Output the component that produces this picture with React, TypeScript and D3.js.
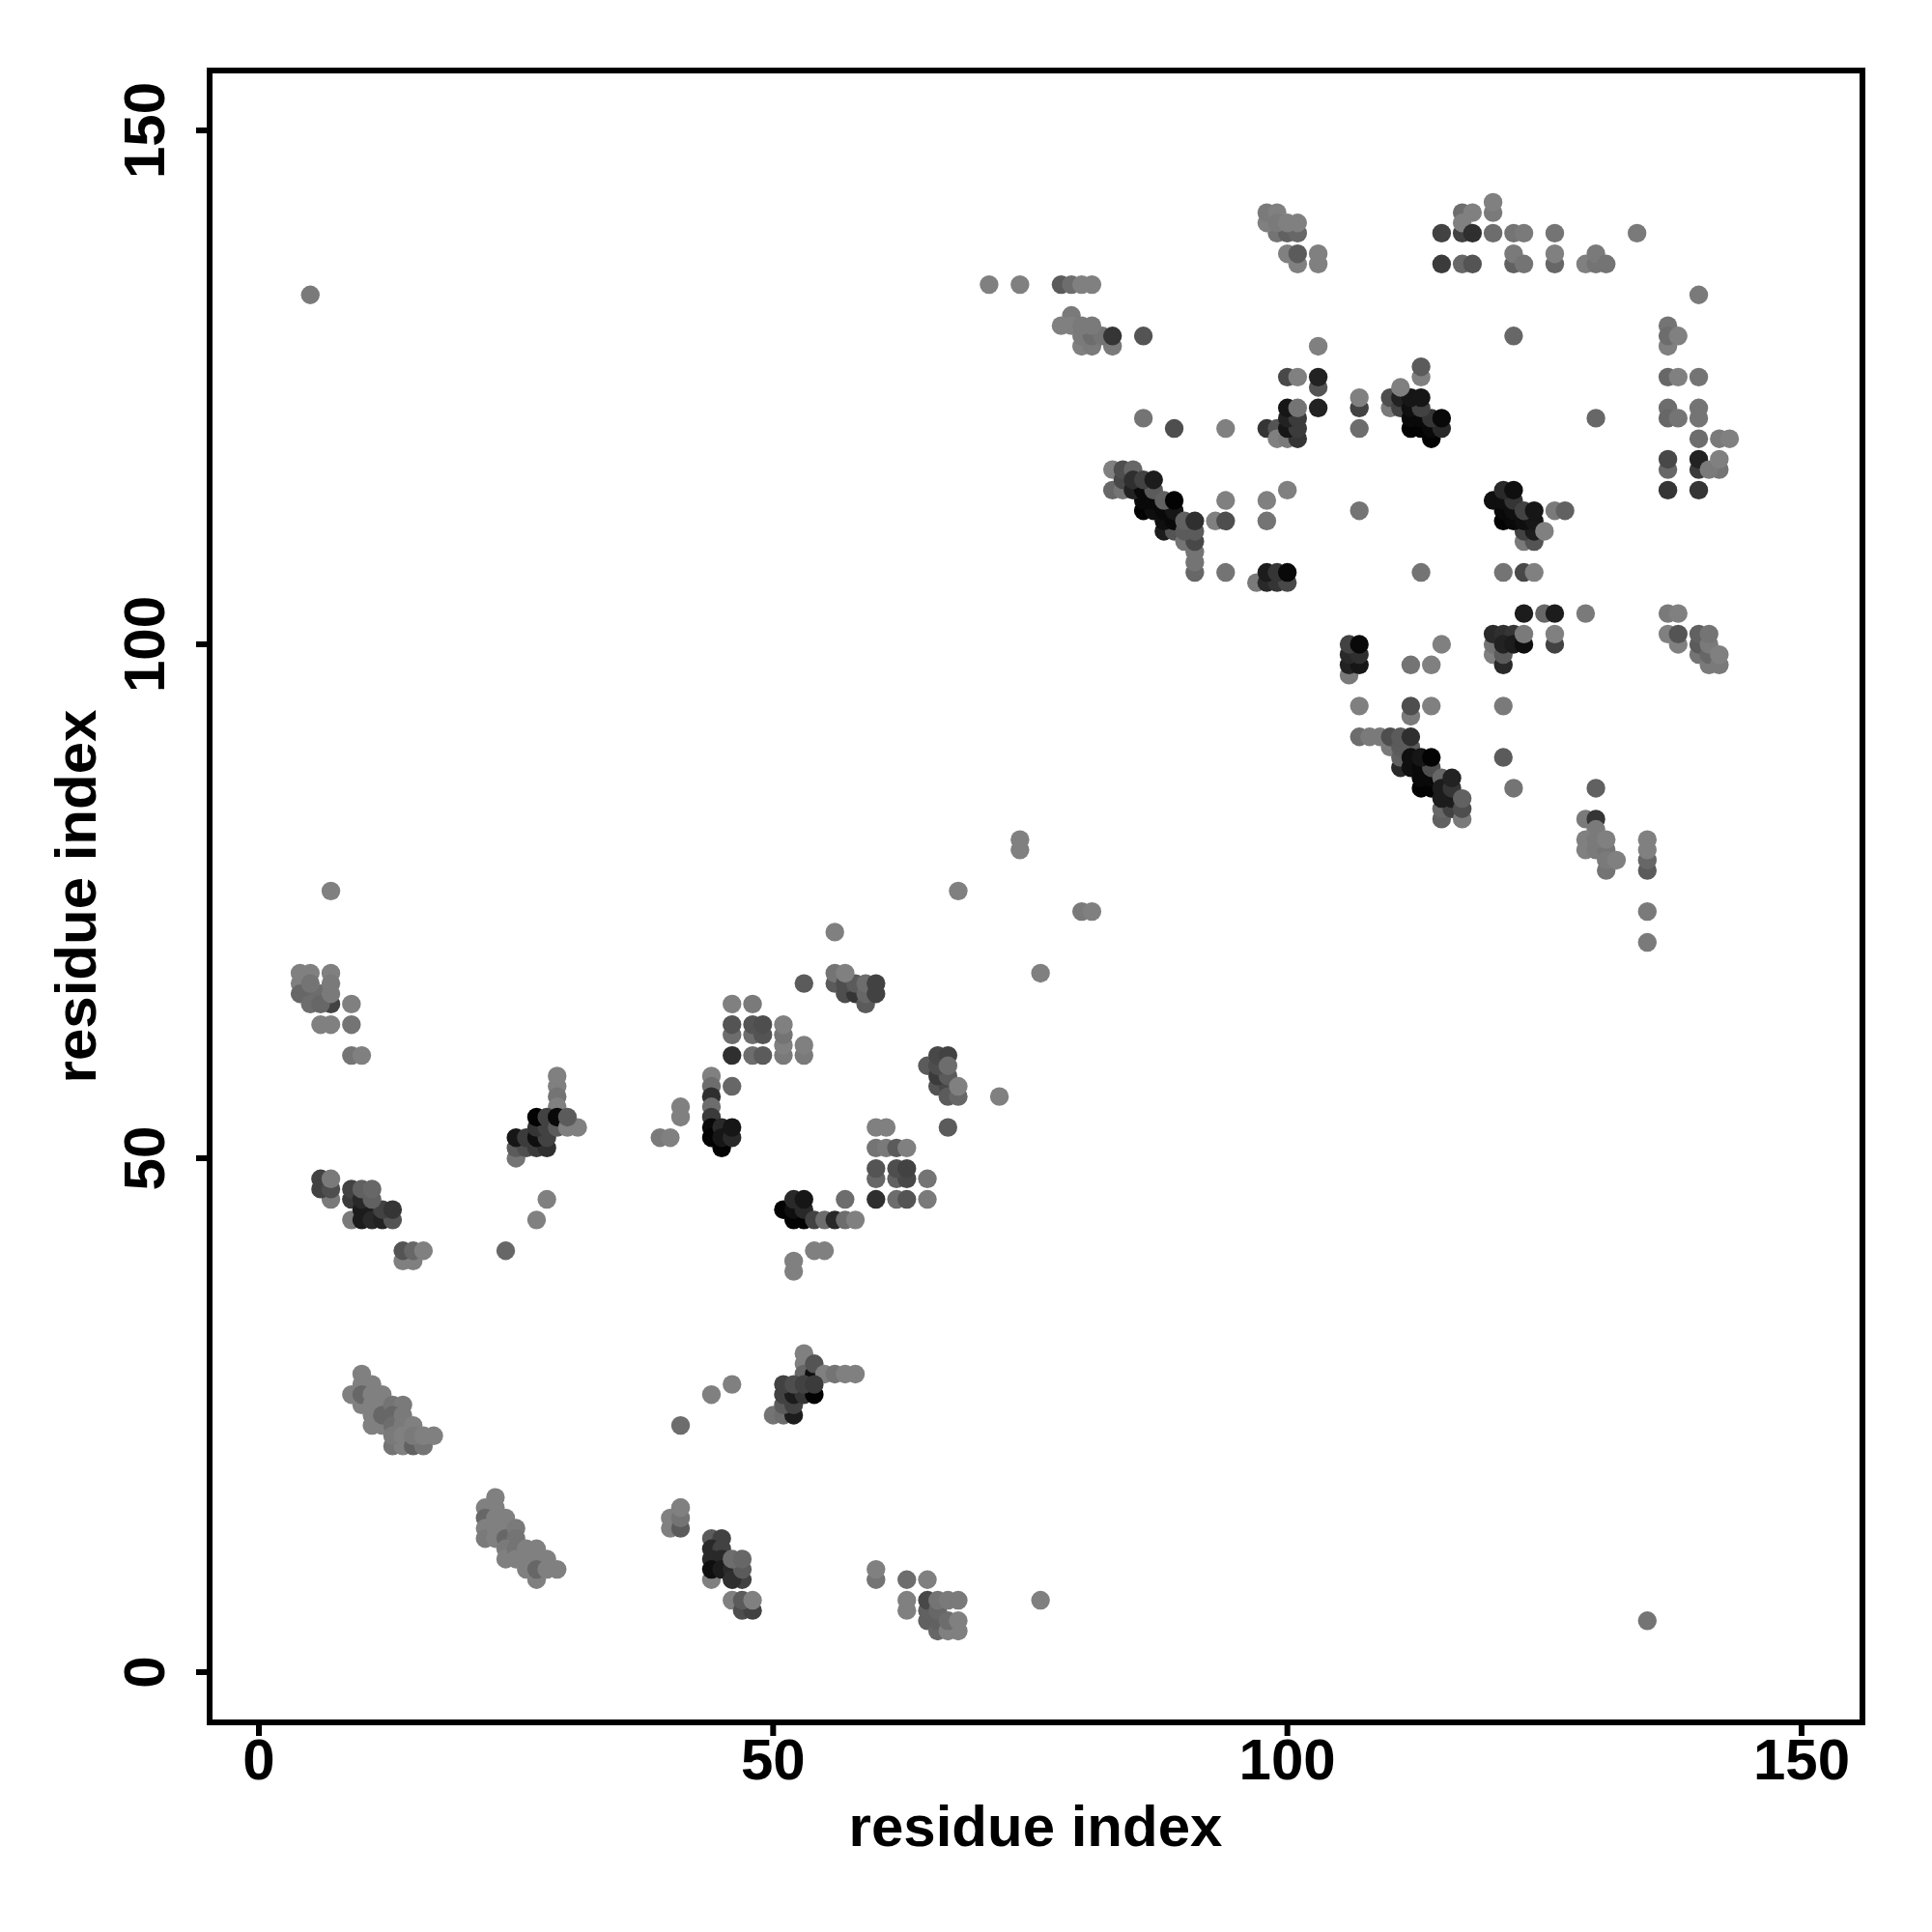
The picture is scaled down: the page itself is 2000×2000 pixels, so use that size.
import React from "react";
import * as d3 from "d3";

type P = [number, number, number];
// each contact: [residue i, residue j, contact strength 0..10]
const c1: P[] = [[10,29,0],[10,28,0],[11,28,0],[9,27,0],[10,26,0],[10,27,2],[11,27,0],[12,27,0],[11,26,0],[12,26,0],[11,24,0],[12,24,0],[11,25,0],[12,25,2],[13,26,1],[14,26,0.5],[13,25,2],[13,24,1.5],[14,25,0.5],[14,24,0.5],[13,22,1],[14,22,0],[13,23,0.5],[14,23,0],[15,22,2.5],[16,22,1],[15,24,0],[15,23,0.5],[16,23,0],[17,23,0]];
const c2: P[] = [[23,17,0],[22,16,0],[23,16,0],[22,15,2],[22,14,0],[22,13,0.5],[23,15,0],[24,15,0],[23,14,0],[23,13,0],[24,14,0],[24,13,2],[25,14,0.5],[25,13,1],[24,12,0.5],[24,11,0],[25,12,1],[25,11,0],[26,12,0],[27,12,0],[26,11,0],[27,11,0],[28,11,0],[26,10,0],[27,9,0],[27,10,2],[28,10,0],[29,10,0]];
const c3: P[] = [[41,24,1.5],[44,27,0],[46,28,0],[41,16,0],[40,15,0],[40,14,0],[41,14,3],[41,15,1],[41,16,0],[44,9,0],[44,13,3],[45,13,5],[44,12,7],[45,12,5],[44,11,7],[45,11,7],[44,10,9],[45,10,8],[46,10,7],[47,9,5],[46,9,6.5],[47,10,3],[46,11,1.5],[47,11,2],[46,7,0],[47,6,4],[48,6,5],[47,7,3],[48,7,0]];
const c4: P[] = [[60,9,1],[60,10,0],[63,9,1.5],[65,9,0],[63,6,0],[63,7,0],[65,5,2.5],[65,6,2.5],[65,7,4.5],[66,4,2],[66,5,2.5],[66,6,2],[66,7,1],[67,7,0.5],[68,7,0.5],[67,4,0],[68,4,0],[67,5,1.5],[68,5,0],[76,7,0],[135,5,1]];
const c5: P[] = [[53,31,0],[53,30,0],[53,29,2],[54,29,9],[54,30,3.5],[55,29,0],[56,29,1],[57,29,0],[58,29,0],[50,25,1],[51,25,1.5],[52,25,8],[51,26,3],[52,26,5],[51,27,5],[52,27,8],[53,27,6],[54,27,10],[51,28,5],[52,28,4],[53,28,5],[54,28,5.5],[52,40,0],[52,39,0],[54,41,0],[55,41,0]];
const c6: P[] = [[7,65,5],[4,68,0],[5,68,0],[7,68,0],[4,67,0],[5,66,1.5],[4,66,2],[6,66,1.5],[5,65,1.5],[6,65,2],[5,67,1],[7,67,0.5],[7,66,0.5],[9,65,0],[6,63,0],[7,63,0],[9,63,1],[9,60,1],[10,60,0],[7,76,0],[5,134,0.5]];
const c7: P[] = [[7,46,0.5],[6,48,5],[6,47,5],[7,47,4],[7,48,0.5],[9,44,0.5],[9,46,5.5],[9,47,5],[10,45,8],[10,44,8],[11,45,8],[11,44,7],[12,44,7.5],[13,44,3.5],[12,45,5],[13,45,6],[10,46,7],[11,46,2.5],[10,47,2.5],[11,47,2],[14,40,0],[15,40,0],[14,41,3.5],[15,41,2],[16,41,0],[24,41,2],[28,46,0],[27,44,0]];
const c8: P[] = [[29,58,0],[29,57,0],[29,56,1],[29,55,0],[25,50,1],[25,51,3],[26,51,4],[27,51,5.5],[28,51,6.5],[25,52,8.5],[26,52,5.5],[27,52,9],[28,52,5],[27,53,6],[28,53,5],[27,54,10],[28,54,5],[29,53,3],[29,54,9.5],[30,53,0],[31,53,0],[30,54,3]];
const c9: P[] = [[56,72,0],[53,67,3],[56,67,3],[56,68,1],[57,66,4],[58,66,6],[57,67,4],[58,67,3],[57,68,0],[59,65,3],[59,66,2],[59,67,1.5],[60,67,5],[60,66,5]];
const c10: P[] = [[46,65,0],[48,65,0.5],[46,62,1.5],[46,63,3.5],[48,62,1.5],[49,62,3.5],[48,63,3.5],[49,63,4],[51,60,0.5],[51,61,0],[51,62,1],[51,63,0],[46,60,6.5],[48,60,1.5],[49,60,3],[53,60,0.5],[53,61,0],[46,57,2]];
const c11: P[] = [[44,58,0],[44,57,1.5],[44,56,6.5],[44,55,1.5],[44,54,5.5],[44,53,9.5],[44,52,10],[45,51,10],[45,53,7],[45,52,8.5],[46,52,7],[46,53,8.5],[41,54,0],[41,55,0],[39,52,0.5],[40,52,0]];
const c12: P[] = [[51,45,10],[52,44,10],[53,44,10],[52,45,9],[53,45,7],[52,46,7],[53,46,8.5],[54,44,5],[55,44,1.5],[56,44,7],[57,44,1.5],[58,44,0],[57,46,1.5],[60,53,0],[61,53,0],[60,51,1],[61,51,0.5],[62,51,3],[63,51,0],[60,48,2],[60,49,3.5],[62,48,2.5],[63,48,4.5],[62,49,4],[63,49,5],[65,48,1],[60,46,6.5],[62,46,1.5],[63,46,3.5],[65,46,0.5]];
const c13: P[] = [[67,53,3],[72,56,0],[65,59,3],[66,57,3.5],[67,57,4.5],[66,58,5.5],[67,58,3],[66,59,4],[66,60,4.5],[67,60,5],[67,59,1.5],[67,56,3],[68,56,2],[68,57,0],[68,76,0],[74,80,0],[74,81,0],[80,74,0.5],[81,74,0],[76,68,0]];
const c14: P[] = [[71,135,0],[74,135,0],[78,135,3],[79,135,1.5],[80,135,0],[81,135,0],[79,132,0.5],[78,131,0],[79,131,0],[80,129,0],[81,129,0.5],[83,129,0.5],[80,130,0.5],[81,130,1.5],[82,130,1],[80,131,0.5],[81,131,0.5],[83,130,6],[86,130,3.5]];
const c15: P[] = [[86,122,1],[89,121,4],[94,121,0],[98,121,6],[99,121,3.5],[99,120,0],[100,120,0.5],[101,120,6],[100,121,8.5],[101,121,5.5],[100,122,7.5],[101,122,5.5],[100,123,8.5],[101,123,1],[103,123,7.5],[103,125,3.5],[103,126,7.5],[100,126,4.5],[101,126,0],[103,129,0]];
const c16: P[] = [[99,140,1],[98,141,0],[100,140,2.5],[101,140,2],[98,142,0.5],[99,142,0],[99,141,0.5],[100,141,0],[101,141,0],[100,138,0],[101,137,0],[101,138,3],[103,137,0],[103,138,0]];
const c17: P[] = [[115,140,5],[115,137,5.5],[117,142,1.5],[118,142,0],[117,140,5],[117,141,0],[118,140,6.5],[117,137,2],[118,137,3.5],[120,142,0.5],[120,143,0],[120,140,1.5],[122,140,1],[123,140,0.5],[126,140,1],[134,140,0.5],[122,137,2.5],[122,138,0.5],[123,137,1],[126,137,2],[126,138,0],[129,137,0],[130,137,1],[130,138,0.5],[131,137,1],[122,130,2],[130,122,2]];
const c18: P[] = [[107,123,5],[107,124,0],[107,121,1.5],[110,123,0.5],[110,124,4],[111,123,5],[111,124,7.5],[113,126,0],[113,127,3],[112,121,10],[113,121,10],[114,120,10],[114,121,9.5],[115,121,7],[112,122,9.5],[113,122,9.5],[114,122,6],[115,122,9.5],[112,123,9],[113,123,5],[112,124,8.5],[113,124,8.5],[111,125,0]];
const c19: P[] = [[140,134,0.5],[137,131,1],[137,129,0],[137,130,1.5],[138,130,0],[137,126,2],[138,126,0],[140,126,1],[137,123,1.5],[137,122,2],[138,122,1],[140,122,1],[140,123,1],[140,120,1.5],[142,120,0.5],[143,120,0],[137,117,2],[137,118,4.5],[140,117,5.5],[140,118,7.5],[142,117,1],[141,117,0.5],[142,118,0],[137,115,6],[140,115,6]];
const c20: P[] = [[123,110,0.5],[124,110,3.5],[123,111,5],[124,111,8],[121,112,10],[122,112,9.5],[123,112,9],[124,112,8.5],[121,113,9.5],[122,113,9],[120,114,9],[121,114,9],[122,114,6],[121,115,7],[122,115,9],[123,113,5],[124,113,8.5],[125,111,0],[126,113,0.5],[127,113,2.5],[121,107,1],[123,107,4.5],[124,107,0],[107,113,1]];
const c21: P[] = [[123,103,8],[125,103,2],[126,103,8],[129,103,0.5],[120,99,0],[120,100,1],[121,98,7],[121,99,3],[120,101,7],[121,101,6.5],[122,101,6],[121,100,7.5],[122,100,8],[123,100,9],[123,101,0.5],[126,100,5],[126,101,0]];
const c22: P[] = [[115,100,0],[112,98,1],[114,98,0],[106,97,0.5],[106,98,7.5],[107,98,8.5],[106,99,7],[107,99,6.5],[106,100,5],[107,100,9.5],[107,94,0],[112,93,0.5],[112,94,4],[114,94,0],[121,94,0.5]];
const c23: P[] = [[107,91,1.5],[108,91,0.5],[109,91,0.5],[110,90,0.5],[110,91,4],[111,88,7],[111,89,2.5],[111,90,3],[111,91,3],[112,90,3],[112,91,6.5],[112,88,9],[112,89,9],[113,86,10],[114,86,10],[113,87,9.5],[114,87,9.5],[113,88,9.5],[114,88,4],[113,89,8.5],[114,89,10],[115,87,2],[115,83,2.5],[115,84,2],[116,84,5],[115,85,8],[116,85,8],[115,86,8],[116,86,6],[116,87,7.5],[117,83,0.5],[117,84,4],[117,85,2.5],[121,89,3],[122,86,1],[130,86,2.5]];
const c24: P[] = [[137,103,0.5],[138,103,0],[137,101,0],[138,100,0],[138,101,3.5],[140,99,1],[140,100,3],[140,101,2.5],[141,98,0.5],[141,99,2],[141,100,0.5],[141,101,1],[142,98,0.5],[142,99,0]];
const c25: P[] = [[129,83,0.5],[130,83,6],[130,82,0.5],[129,80,0],[129,81,0],[130,80,0.5],[131,80,1],[130,81,0.5],[131,81,0],[131,78,1],[131,79,0.5],[132,79,0],[135,78,3],[135,79,2],[135,80,0],[135,81,0],[135,74,0.5],[135,71,0.5]];
const c26: P[] = [[83,117,0],[83,115,2],[84,115,1],[84,116,4.5],[84,117,4],[85,117,2],[86,113,10],[87,113,9],[86,114,9.5],[87,114,9.5],[85,115,7.5],[86,115,9.5],[87,115,3],[85,116,6.5],[86,116,5],[87,116,8],[88,111,8],[89,111,3.5],[88,112,9],[89,112,9.5],[88,113,9.5],[89,113,8.5],[88,114,2.5],[89,114,10],[90,110,1],[91,107,2],[91,108,1],[91,109,1],[91,110,4.5],[90,111,3],[91,111,3],[90,112,2.5],[91,112,6.5]];
const c27: P[] = [[94,114,0],[98,114,0],[100,115,0],[93,112,0],[94,112,4],[98,112,1],[94,107,1],[113,107,1],[97,106,0.5],[98,106,7],[99,106,6],[100,106,4.5],[98,107,8],[99,107,6],[100,107,9.5]];

const contacts: P[] = [c1,c2,c3,c4,c5,c6,c7,c8,c9,c10,c11,c12,c13,c14,c15,c16,c17,c18,c19,c20,c21,c22,c23,c24,c25,c26,c27].flat();
const ticks = [0, 50, 100, 150];
const axisTitle = "residue index";

const x = d3.scaleLinear().domain([0, 150]).range([268, 1865]);
const y = d3.scaleLinear().domain([0, 150]).range([1731, 135]);
const grey = d3.scaleLinear().domain([0, 10]).range([128, 3]);
const font = "'Liberation Sans', Arial, sans-serif";

export default function App() {
  return (
    <svg width={2000} height={2000} style={{ position: "absolute", left: 0, top: 0, background: "#fff" }}>
      {contacts.map(([i, j, s], k) => {
        const g = Math.round(grey(s));
        return <circle key={k} cx={x(i)} cy={y(j)} r={9.7} fill={`rgb(${g},${g},${g})`} />;
      })}
      <rect x={217} y={73} width={1711} height={1710} fill="none" stroke="#000" strokeWidth={6} />
      {ticks.map((t) => (
        <g key={t}>
          <line x1={x(t)} x2={x(t)} y1={1783} y2={1797} stroke="#000" strokeWidth={6} />
          <text x={x(t)} y={1842} textAnchor="middle" fontFamily={font} fontWeight="bold" fontSize={60}>{t}</text>
          <line x1={217} x2={203} y1={y(t)} y2={y(t)} stroke="#000" strokeWidth={6} />
          <text transform={`translate(170,${y(t)}) rotate(-90)`} textAnchor="middle" fontFamily={font} fontWeight="bold" fontSize={60}>{t}</text>
        </g>
      ))}
      <text x={1072} y={1911} textAnchor="middle" fontFamily={font} fontWeight="bold" fontSize={60}>{axisTitle}</text>
      <text transform="translate(99,928) rotate(-90)" textAnchor="middle" fontFamily={font} fontWeight="bold" fontSize={60}>{axisTitle}</text>
    </svg>
  );
}
